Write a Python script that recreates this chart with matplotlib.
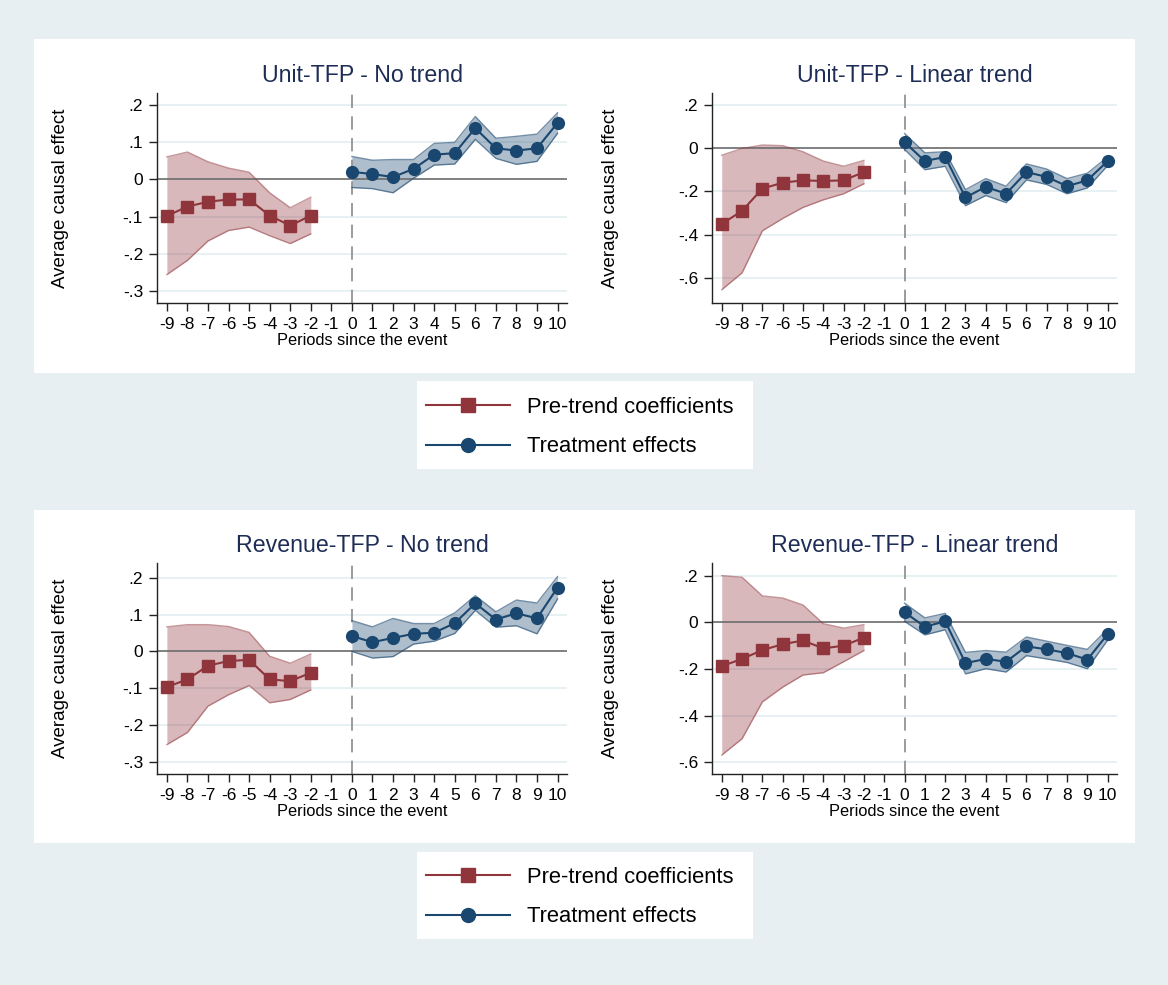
"""Event-study plots: pre-trend coefficients and treatment effects for TFP measures"""

import numpy as np
import matplotlib.pyplot as plt
from matplotlib.patches import Rectangle
from matplotlib.lines import Line2D
from matplotlib.ticker import FuncFormatter

plt.rcParams["font.family"] = ["Liberation Sans", "DejaVu Sans"]
plt.rcParams["axes.unicode_minus"] = False

# Periods
pre_periods = [-9, -8, -7, -6, -5, -4, -3, -2]
post_periods = [0, 1, 2, 3, 4, 5, 6, 7, 8, 9, 10]

# Unit-TFP - No trend
u_nt_pre = [-0.098, -0.073, -0.060, -0.054, -0.054, -0.097, -0.124, -0.097]
u_nt_pre_hi = [0.060, 0.073, 0.047, 0.030, 0.019, -0.036, -0.076, -0.048]
u_nt_pre_lo = [-0.255, -0.217, -0.165, -0.137, -0.128, -0.151, -0.172, -0.146]
u_nt_post = [0.020, 0.014, 0.006, 0.028, 0.066, 0.070, 0.137, 0.083, 0.077, 0.083, 0.151]
u_nt_post_hi = [0.061, 0.051, 0.053, 0.053, 0.096, 0.099, 0.168, 0.110, 0.115, 0.121, 0.178]
u_nt_post_lo = [-0.022, -0.025, -0.036, 0.003, 0.038, 0.041, 0.107, 0.056, 0.040, 0.048, 0.123]

# Unit-TFP - Linear trend
u_lt_pre = [-0.350, -0.290, -0.187, -0.160, -0.149, -0.152, -0.149, -0.111]
u_lt_pre_hi = [-0.033, -0.002, 0.014, 0.011, -0.017, -0.060, -0.084, -0.057]
u_lt_pre_lo = [-0.654, -0.576, -0.382, -0.325, -0.274, -0.239, -0.211, -0.165]
u_lt_post = [0.027, -0.060, -0.041, -0.228, -0.179, -0.211, -0.111, -0.133, -0.176, -0.149, -0.060]
u_lt_post_hi = [0.067, -0.022, -0.017, -0.192, -0.141, -0.176, -0.073, -0.097, -0.141, -0.116, -0.041]
u_lt_post_lo = [-0.006, -0.100, -0.084, -0.266, -0.219, -0.252, -0.147, -0.168, -0.211, -0.184, -0.081]

# Revenue-TFP - No trend
r_nt_pre = [-0.097, -0.076, -0.039, -0.026, -0.023, -0.076, -0.081, -0.058]
r_nt_pre_hi = [0.067, 0.073, 0.073, 0.068, 0.052, -0.013, -0.032, -0.007]
r_nt_pre_lo = [-0.254, -0.221, -0.149, -0.118, -0.093, -0.140, -0.131, -0.105]
r_nt_post = [0.042, 0.025, 0.037, 0.048, 0.051, 0.077, 0.131, 0.087, 0.104, 0.090, 0.174]
r_nt_post_hi = [0.084, 0.067, 0.090, 0.076, 0.076, 0.105, 0.152, 0.108, 0.140, 0.132, 0.204]
r_nt_post_lo = [0.000, -0.018, -0.014, 0.020, 0.028, 0.049, 0.112, 0.066, 0.070, 0.048, 0.143]

# Revenue-TFP - Linear trend
r_lt_pre = [-0.188, -0.157, -0.119, -0.094, -0.078, -0.112, -0.100, -0.066]
r_lt_pre_hi = [0.200, 0.193, 0.113, 0.104, 0.074, -0.006, -0.025, -0.010]
r_lt_pre_lo = [-0.569, -0.499, -0.341, -0.278, -0.226, -0.216, -0.169, -0.121]
r_lt_post = [0.043, -0.019, 0.004, -0.175, -0.157, -0.169, -0.103, -0.116, -0.132, -0.160, -0.051]
r_lt_post_hi = [0.082, 0.019, 0.038, -0.129, -0.121, -0.128, -0.063, -0.081, -0.099, -0.116, -0.029]
r_lt_post_lo = [0.004, -0.054, -0.032, -0.221, -0.199, -0.213, -0.143, -0.157, -0.172, -0.199, -0.076]

x_ticks = list(range(-9, 11))
yticks_nt = [-0.3, -0.2, -0.1, 0, 0.1, 0.2]
yticks_lt = [-0.6, -0.4, -0.2, 0, 0.2]

COLOR_PRE = "#90353b"
COLOR_POST = "#1a476f"
COLOR_BG = "#e8eff2"
COLOR_TITLE = "#1e2d55"

W, H = 1168, 985


def px_rect(x0, y0, x1, y1):
    """Convert pixel box (top-left origin) to figure fraction rect"""
    return [x0 / W, 1 - y1 / H, (x1 - x0) / W, (y1 - y0) / H]


def stata_fmt(v, _pos):
    if abs(v) < 1e-9:
        return "0"
    s = f"{v:.1f}"
    return s.replace("0.", ".")


def draw_panel(ax, title, pre, pre_lo, pre_hi, post, post_lo, post_hi, yticks, ylim, label_x):
    ax.fill_between(pre_periods, pre_lo, pre_hi, color=COLOR_PRE, alpha=0.35, lw=0)
    ax.plot(pre_periods, pre_lo, color=COLOR_PRE, alpha=0.5, lw=1)
    ax.plot(pre_periods, pre_hi, color=COLOR_PRE, alpha=0.5, lw=1)
    ax.fill_between(post_periods, post_lo, post_hi, color=COLOR_POST, alpha=0.35, lw=0)
    ax.plot(post_periods, post_lo, color=COLOR_POST, alpha=0.6, lw=1)
    ax.plot(post_periods, post_hi, color=COLOR_POST, alpha=0.6, lw=1)

    ax.axhline(0, color="#6e6e6e", lw=1.2, zorder=1)
    ax.axvline(0, color="#8a8a8a", lw=1.2, ls=(0, (8, 5)), zorder=1)

    ax.plot(pre_periods, pre, color=COLOR_PRE, lw=1.5, marker="s", ms=9, zorder=5)
    ax.plot(post_periods, post, color=COLOR_POST, lw=1.5, marker="o", ms=8.5, zorder=5)

    ax.set_xlim(-9.48, 10.46)
    ax.set_ylim(*ylim)
    ax.set_xticks(x_ticks)
    ax.set_yticks(yticks)
    ax.yaxis.set_major_formatter(FuncFormatter(stata_fmt))
    ax.grid(axis="y", color="#e3eef1", lw=1.2, zorder=0)
    ax.set_axisbelow(True)
    for side in ["top", "right"]:
        ax.spines[side].set_visible(False)
    for side in ["left", "bottom"]:
        ax.spines[side].set_color("#222222")
        ax.spines[side].set_linewidth(1.0)
    ax.tick_params(axis="both", length=6, width=1, color="#222222", labelsize=12.5, pad=4)
    ax.set_title(title, fontsize=16.7, color=COLOR_TITLE, pad=8)
    ax.set_xlabel("Periods since the event", fontsize=11.8, labelpad=1)
    ax.set_ylabel("Average causal effect", fontsize=13.5)
    ax.yaxis.set_label_coords(label_x, 0.5)


fig = plt.figure(figsize=(W / 100, H / 100), dpi=100)
fig.patch.set_facecolor(COLOR_BG)

# White boxes behind panels and legends
for box in [(34, 39, 1135, 373), (34, 510, 1135, 843), (417, 381, 753, 469), (417, 852, 753, 939)]:
    x0, y0, x1, y1 = box
    fig.patches.append(Rectangle((x0 / W, 1 - y1 / H), (x1 - x0) / W, (y1 - y0) / H,
                                 transform=fig.transFigure, facecolor="white",
                                 edgecolor="none", zorder=-5))

ax1 = fig.add_axes(px_rect(157, 93, 567, 303))
ax2 = fig.add_axes(px_rect(712, 93, 1117, 303))
ax3 = fig.add_axes(px_rect(157, 563, 567, 774))
ax4 = fig.add_axes(px_rect(712, 563, 1117, 774))

draw_panel(ax1, "Unit-TFP - No trend", u_nt_pre, u_nt_pre_lo, u_nt_pre_hi,
           u_nt_post, u_nt_post_lo, u_nt_post_hi, yticks_nt, (-0.331, 0.231), -0.215)
draw_panel(ax2, "Unit-TFP - Linear trend", u_lt_pre, u_lt_pre_lo, u_lt_pre_hi,
           u_lt_post, u_lt_post_lo, u_lt_post_hi, yticks_lt, (-0.715, 0.254), -0.23)
draw_panel(ax3, "Revenue-TFP - No trend", r_nt_pre, r_nt_pre_lo, r_nt_pre_hi,
           r_nt_post, r_nt_post_lo, r_nt_post_hi, yticks_nt, (-0.334, 0.241), -0.215)
draw_panel(ax4, "Revenue-TFP - Linear trend", r_lt_pre, r_lt_pre_lo, r_lt_pre_hi,
           r_lt_post, r_lt_post_lo, r_lt_post_hi, yticks_lt, (-0.65, 0.254), -0.23)

handles = [
    Line2D([], [], color=COLOR_PRE, lw=1.5, marker="s", ms=10),
    Line2D([], [], color=COLOR_POST, lw=1.5, marker="o", ms=10),
]
labels = ["Pre-trend coefficients", "Treatment effects"]
for y_center in [427, 897]:
    fig.legend(handles, labels, loc="center", bbox_to_anchor=(580 / W, 1 - y_center / H),
               frameon=False, fontsize=15.8, handlelength=3.8, handletextpad=0.8,
               labelspacing=0.85)

plt.savefig("out.png", dpi=100, facecolor=COLOR_BG)
plt.close()
